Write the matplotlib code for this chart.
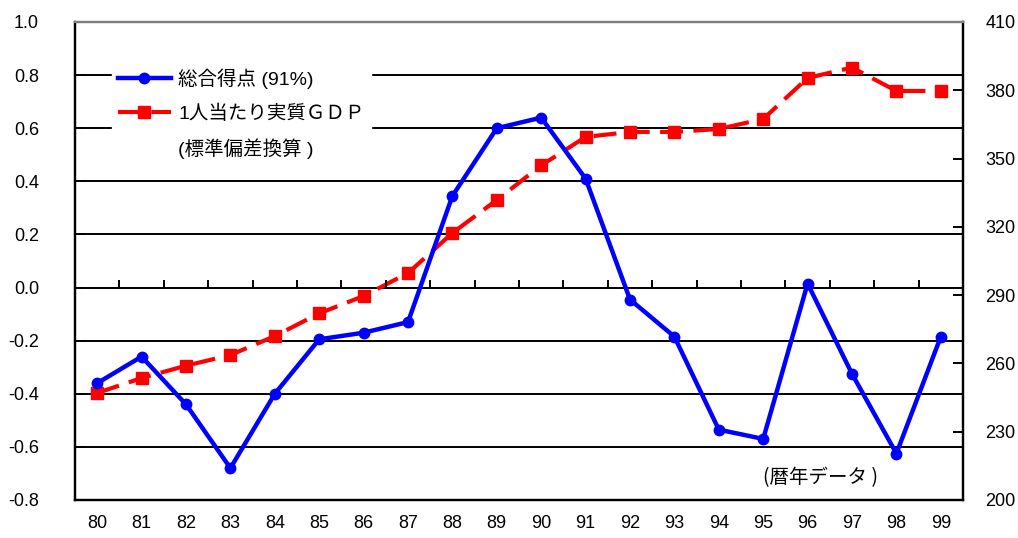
import numpy as np
import matplotlib
matplotlib.use("Agg")
import matplotlib.pyplot as plt
from matplotlib.lines import Line2D

plt.rcParams['font.family'] = ['Liberation Sans', 'Noto Sans CJK JP', 'DejaVu Sans']

years = ['80', '81', '82', '83', '84', '85', '86', '87', '88', '89',
         '90', '91', '92', '93', '94', '95', '96', '97', '98', '99']
score = [-0.36, -0.26, -0.44, -0.68, -0.40, -0.195, -0.17, -0.13, 0.345, 0.60,
         0.64, 0.41, -0.045, -0.185, -0.535, -0.57, 0.015, -0.325, -0.625, -0.185]
gdp = [247, 253.6, 259, 263.7, 272, 282, 289.6, 299.7, 317.3, 331.8,
       347, 359.5, 361.7, 361.7, 363, 367.4, 385.4, 390, 379.7, 379.7]
left_ticks = [-0.8, -0.6, -0.4, -0.2, 0.0, 0.2, 0.4, 0.6, 0.8, 1.0]
right_ticks = [200, 230, 260, 290, 320, 350, 380, 410]

x = np.arange(len(years)) + 0.5

fig = plt.figure(figsize=(10.18, 5.38), dpi=100)
ax = fig.add_axes([75/1018, 38/538, 888/1018, 478/538])
ax2 = ax.twinx()
ax.set_zorder(ax2.get_zorder() + 1)
ax.patch.set_visible(False)

ax.set_xlim(0, 20)
ax.set_ylim(-0.8, 1.0)
ax2.set_ylim(200, 410)

# gridlines on the twin so the red markers sit over them
ax2.hlines(left_ticks[1:-1], 0, 20, colors='black', linewidth=1.4,
           transform=ax.transData, zorder=1)

ax2.plot(x, gdp, color='#ff0000', linewidth=3, dashes=(5.5, 2.5),
         marker='s', markersize=9, zorder=3)
ax.plot(x, score, color='#0000ff', linewidth=3.2, marker='o', markersize=7.5,
        zorder=4)

# category tick marks on the zero line
ax.vlines(np.arange(1, 20), 0, 0.028, colors='black', linewidth=1.4, zorder=2)

ax.set_yticks(left_ticks)
ax.set_yticklabels(['%.1f' % v for v in left_ticks])
ax2.set_yticks(right_ticks)
ax2.set_yticklabels([str(v) for v in right_ticks])
ax.set_xticks(x)
ax.set_xticklabels(years)

ax.tick_params(axis='y', direction='in', length=7, width=1.4, pad=26, labelsize=13)
ax2.tick_params(axis='y', direction='in', length=7, width=1.4, pad=16, labelsize=13)
ax.tick_params(axis='x', length=0, pad=11, labelsize=13)

for a in (ax, ax2):
    for s in ('left', 'right', 'bottom'):
        a.spines[s].set_linewidth(1.6)
        a.spines[s].set_color('black')
    a.spines['top'].set_color('#808080')
    a.spines['top'].set_linewidth(1.6)

handles = [
    Line2D([], [], color='#0000ff', linewidth=3.2, marker='o', markersize=7.5),
    Line2D([], [], color='#ff0000', linewidth=3, dashes=(5.5, 2.5), marker='s', markersize=9),
    Line2D([], [], color='none'),
]
labels = ['総合得点 (91%)', '1人当たり実質ＧＤＰ', '(標準偏差換算 )']
leg = ax.legend(handles, labels, loc='upper left', bbox_to_anchor=(0.031, 0.935),
                frameon=True, fancybox=False, edgecolor='white', framealpha=1,
                handlelength=2.7, labelspacing=0.8,
                borderpad=0.3, handletextpad=0.4,
                prop={'family': ['Liberation Sans', 'Noto Sans CJK JP'], 'size': 14})
leg.set_zorder(10)

ax.text(0.839, 0.047, '(暦年データ )', transform=ax.transAxes, fontsize=14,
        ha='center', va='center', family=['Noto Sans CJK JP', 'DejaVu Sans'])

fig.savefig('out.png', dpi=100)
